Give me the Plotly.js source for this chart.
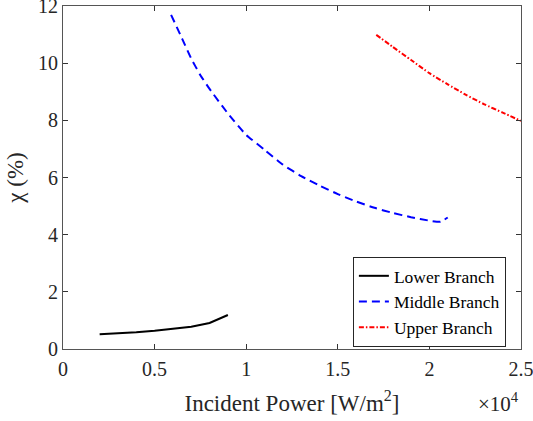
<!DOCTYPE html>
<html>
<head>
<meta charset="utf-8">
<script src="https://cdn.plot.ly/plotly-3.0.1.min.js"></script>
<style>html,body{margin:0;padding:0;background:#fff;}#chart{width:533px;height:421px;}</style>
</head>
<body>
<div id="chart"></div>
<script>
// Incident power (W/m^2) and chi (%) for each branch
const lowerX = [2000, 3000, 4000, 5000, 6000, 7000, 8000, 9000];
const lowerY = [0.52, 0.55, 0.59, 0.64, 0.70, 0.78, 0.91, 1.19];

const middleX = [5900, 6500, 7000, 7500, 8000, 9000, 10000, 11000, 12000, 13000, 14000, 15000, 16000, 17000, 18000, 19000, 20000, 20600, 21000];
const middleY = [11.69, 10.86, 10.16, 9.58, 9.10, 8.24, 7.49, 6.97, 6.45, 6.05, 5.72, 5.42, 5.16, 4.94, 4.76, 4.61, 4.49, 4.45, 4.60];

const upperX = [17100, 18000, 19000, 20000, 21000, 22000, 23000, 24000, 25000];
const upperY = [10.99, 10.57, 10.11, 9.65, 9.26, 8.89, 8.56, 8.27, 7.98];

const seriesNames = ['Lower Branch', 'Middle Branch', 'Upper Branch'];
const xTickVals = [0, 5000, 10000, 15000, 20000, 25000];
const xTickText = ['0', '0.5', '1', '1.5', '2', '2.5'];
const yTickVals = [0, 2, 4, 6, 8, 10, 12];

const FONT = "'Liberation Serif', 'Times New Roman', Times, serif";

const traces = [
  {x: lowerX, y: lowerY, name: seriesNames[0], mode: 'lines', line: {color: '#000000', width: 2}},
  {x: middleX, y: middleY, name: seriesNames[1], mode: 'lines', line: {color: '#0000ff', width: 2, dash: '8px,5px', shape: 'spline', smoothing: 0.5}},
  {x: upperX, y: upperY, name: seriesNames[2], mode: 'lines', line: {color: '#ff0000', width: 2, dash: '5px,2px,1.5px,2px', shape: 'spline', smoothing: 0.5}}
];

const axisCommon = {
  showline: true, linecolor: '#555555', linewidth: 1, mirror: 'ticks',
  ticks: 'inside', ticklen: 5, tickcolor: '#333333', tickwidth: 1,
  showgrid: false, zeroline: false, ticklabeloverflow: 'allow',
  tickfont: {family: FONT, size: 20, color: '#262626'}
};

const layout = {
  width: 533, height: 421,
  margin: {l: 63, r: 12, t: 6, b: 72},
  paper_bgcolor: '#ffffff', plot_bgcolor: '#ffffff',
  font: {family: FONT, color: '#262626'},
  showlegend: true,
  legend: {
    x: 0.967, xanchor: 'right', y: 0.006, yanchor: 'bottom',
    bgcolor: '#ffffff', bordercolor: '#262626', borderwidth: 1,
    font: {family: FONT, size: 17.5, color: '#000000'},
    tracegroupgap: 0
  },
  xaxis: Object.assign({}, axisCommon, {
    range: [0, 25000], tickmode: 'array', tickvals: xTickVals, ticktext: xTickText,
    ticklabelstandoff: 2,
    title: {text: 'Incident Power [W/m<sup>2</sup>]', font: {family: FONT, size: 23, color: '#262626'}, standoff: 15}
  }),
  yaxis: Object.assign({}, axisCommon, {
    range: [0, 12], tickmode: 'array', tickvals: yTickVals,
    title: {text: 'χ (%)', font: {family: FONT, size: 23, color: '#262626'}, standoff: 7}
  }),
  annotations: [{
    xref: 'paper', yref: 'paper', x: 1.0, y: -0.155, xanchor: 'right', yanchor: 'middle',
    text: '×10<sup>4</sup>', showarrow: false,
    font: {family: FONT, size: 21, color: '#262626'}
  }]
};

Plotly.newPlot('chart', traces, layout, {displayModeBar: false, staticPlot: true});
</script>
</body>
</html>
